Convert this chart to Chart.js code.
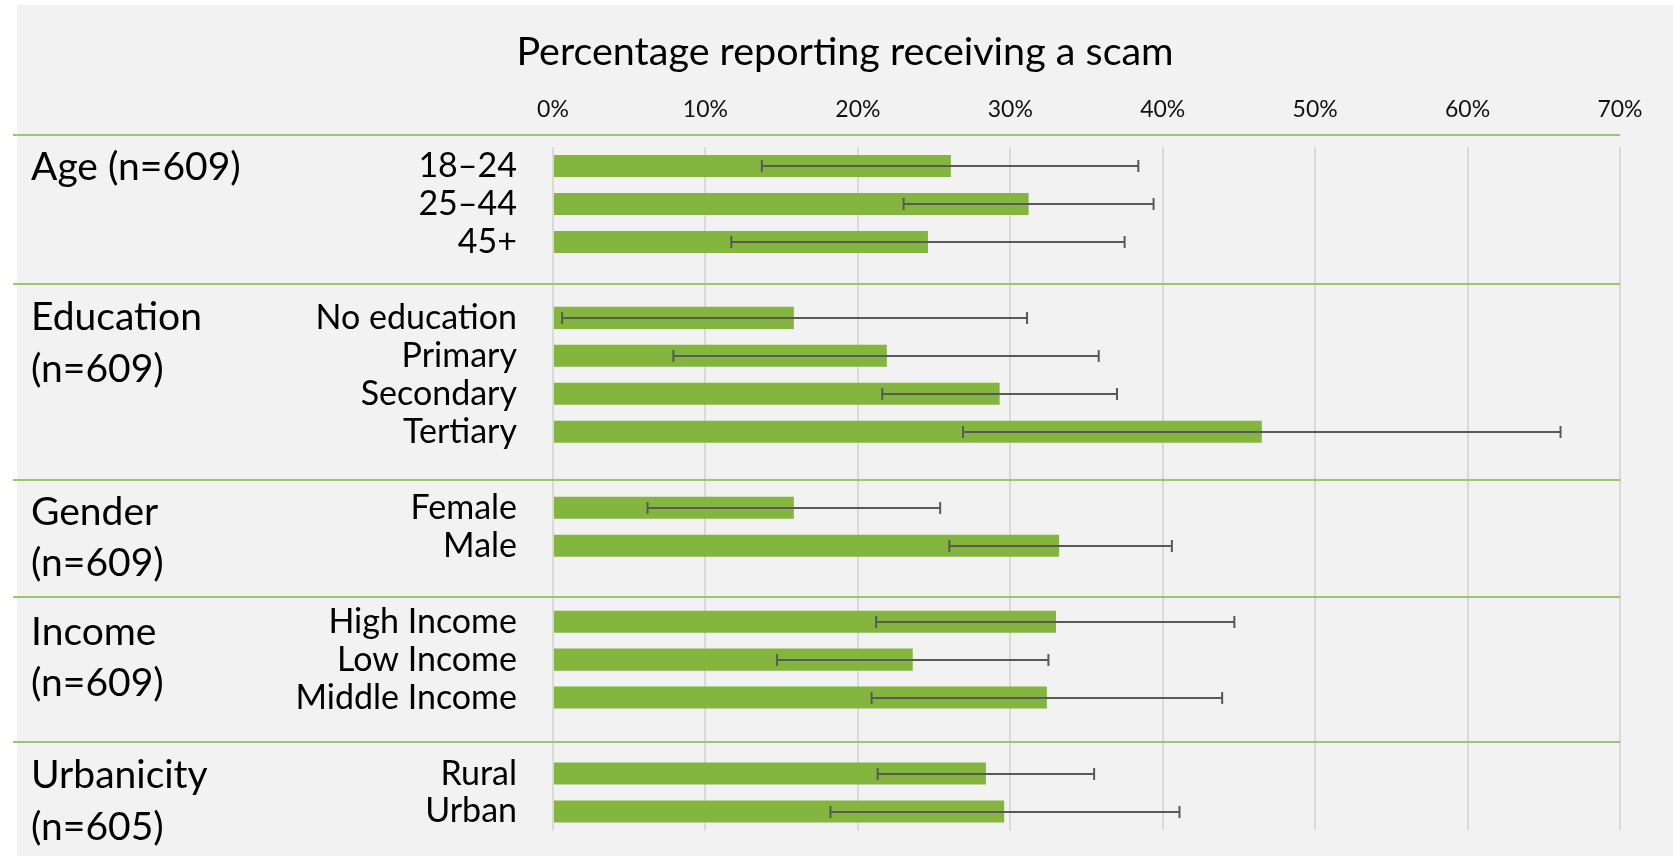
<!DOCTYPE html>
<html>
<head>
<meta charset="utf-8">
<script src="https://cdn.jsdelivr.net/npm/chart.js@4.4.0/dist/chart.umd.min.js"></script>
<style>
  body { margin: 0; background: #fff; }
  #wrap { width: 1673px; height: 856px; position: relative; }
</style>
</head>
<body>
<div id="wrap"><canvas id="chart"></canvas></div>
<script>
// one slot per row, '' = blank spacer row between groups
const categories = ['18–24', '25–44', '45+', '',
  'No education', 'Primary', 'Secondary', 'Tertiary', '',
  'Female', 'Male', '',
  'High Income', 'Low Income', 'Middle Income', '',
  'Rural', 'Urban'];

const values = [26.1, 31.2, 24.6, null,
  15.8, 21.9, 29.3, 46.5, null,
  15.8, 33.2, null,
  33.0, 23.6, 32.4, null,
  28.4, 29.6];

const lower = [13.7, 23.0, 11.7, null,
  0.6, 7.9, 21.6, 26.9, null,
  6.2, 26.0, null,
  21.2, 14.7, 20.9, null,
  21.3, 18.2];

const upper = [38.4, 39.4, 37.5, null,
  31.1, 35.8, 37.0, 66.1, null,
  25.4, 40.6, null,
  44.7, 32.5, 43.9, null,
  35.5, 41.1];

const xTicks = [0, 10, 20, 30, 40, 50, 60, 70];

// group headings on the left, placed at a row position (in row units)
const groupLabels = [['Age (n=609)'], ['Education', '(n=609)'], ['Gender', '(n=609)'],
  ['Income', '(n=609)'], ['Urbanicity', '(n=605)']];
const groupRows = [0.37, 4.32, 9.45, 12.61, 16.39];
// green separator lines between groups (row units)
const separatorRows = [-0.82, 3.1, 8.27, 11.34, 15.16];

const chartTitle = 'Percentage reporting receiving a scam';
const FONT = 'Lato';

const background = {
  id: 'background',
  beforeDraw(chart) {
    const ctx = chart.ctx;
    ctx.save();
    ctx.fillStyle = '#ffffff';
    ctx.fillRect(0, 0, chart.width, chart.height);
    ctx.fillStyle = '#f2f2f2';
    ctx.fillRect(17, 5, chart.width - 17, chart.height - 5);
    ctx.restore();
  }
};

const errorBars = {
  id: 'errorBars',
  afterDatasetsDraw(chart) {
    const ctx = chart.ctx;
    const x = chart.scales.x, y = chart.scales.y;
    ctx.save();
    ctx.strokeStyle = '#595959';
    ctx.lineWidth = 2;
    lower.forEach((lo, i) => {
      if (lo === null) return;
      const py = Math.round(y.getPixelForValue(i));
      const x1 = x.getPixelForValue(lo), x2 = x.getPixelForValue(upper[i]);
      ctx.beginPath();
      ctx.moveTo(x1, py); ctx.lineTo(x2, py);
      ctx.moveTo(x1, py - 6); ctx.lineTo(x1, py + 6);
      ctx.moveTo(x2, py - 6); ctx.lineTo(x2, py + 6);
      ctx.stroke();
    });
    ctx.restore();
  }
};

const decorations = {
  id: 'decorations',
  afterDraw(chart) {
    const ctx = chart.ctx;
    const y = chart.scales.y;
    const area = chart.chartArea;
    ctx.save();
    // separators
    ctx.strokeStyle = '#9dc46e';
    ctx.lineWidth = 2;
    separatorRows.forEach(r => {
      const py = Math.round(y.getPixelForValue(r));
      ctx.beginPath();
      ctx.moveTo(13, py); ctx.lineTo(area.right, py);
      ctx.stroke();
    });
    // title
    ctx.fillStyle = '#000';
    ctx.font = '39.5px ' + FONT;
    ctx.textAlign = 'center';
    ctx.textBaseline = 'alphabetic';
    ctx.fillText(chartTitle, (17 + chart.width) / 2, 65);
    // group headings
    ctx.font = '39px ' + FONT;
    ctx.textAlign = 'left';
    groupLabels.forEach((lines, g) => {
      const base = y.getPixelForValue(groupRows[g]);
      lines.forEach((t, k) => ctx.fillText(t, 31, base + k * 51.5));
    });
    ctx.restore();
  }
};

new Chart(document.getElementById('chart'), {
  type: 'bar',
  data: {
    labels: categories,
    datasets: [{
      label: 'Percentage reporting receiving a scam',
      data: values,
      backgroundColor: '#84b53e',
      categoryPercentage: 1,
      barPercentage: 0.58
    }]
  },
  options: {
    indexAxis: 'y',
    responsive: true,
    maintainAspectRatio: false,
    animation: false,
    layout: { padding: { left: 0, right: 53, top: 75, bottom: 25.5 } },
    plugins: {
      legend: { display: false },
      title: { display: false },
      tooltip: { enabled: false }
    },
    scales: {
      x: {
        position: 'top',
        min: 0,
        max: 70,
        afterBuildTicks(scale) { scale.ticks = xTicks.map(v => ({ value: v })); },
        afterFit(scale) {
          scale.height = 72;
          scale.paddingLeft = 0;
          scale.paddingRight = 0;
        },
        border: { display: false },
        grid: { color: '#d9d9d9', lineWidth: 2, drawTicks: false },
        ticks: {
          padding: 24,
          color: '#111',
          font: { family: FONT, size: 23 },
          callback: v => v + '%'
        }
      },
      y: {
        afterFit(scale) {
          scale.width = 553;
          scale.paddingTop = 0;
          scale.paddingBottom = 0;
        },
        border: { display: false },
        grid: { display: false, drawTicks: false },
        ticks: {
          autoSkip: false,
          padding: 36,
          color: '#000',
          font: { family: FONT, size: 34 }
        }
      }
    }
  },
  plugins: [background, errorBars, decorations]
});
</script>
</body>
</html>
